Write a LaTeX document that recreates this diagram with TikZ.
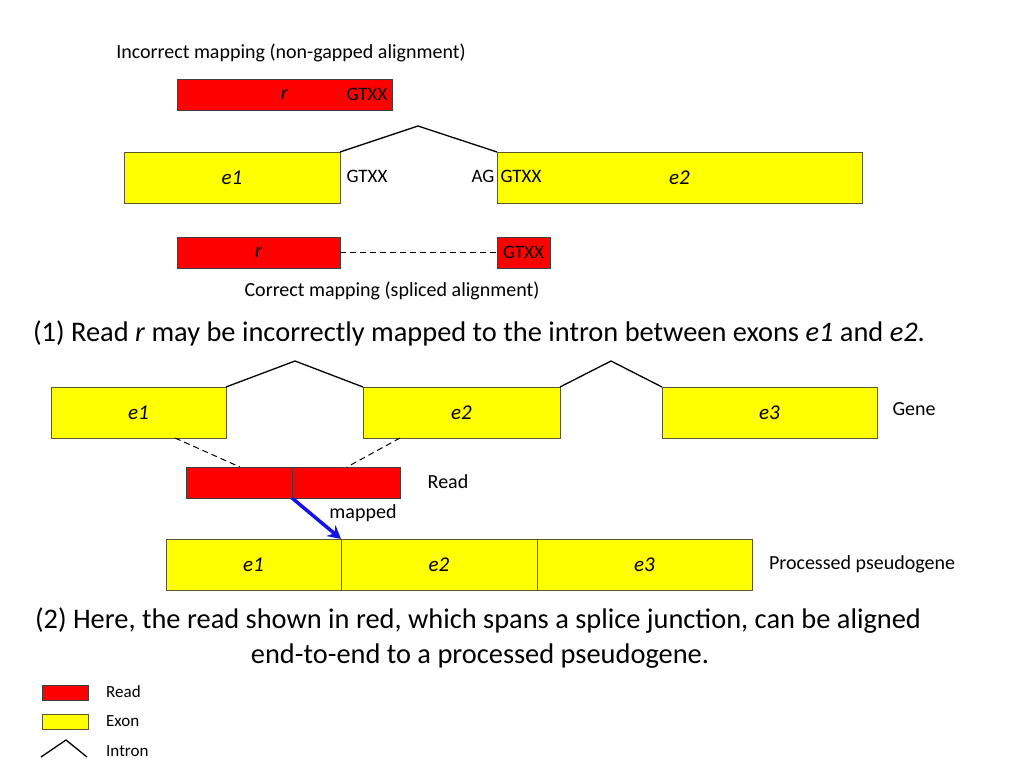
\documentclass[tikz,border=0pt]{standalone}
\usepackage{fontspec}
\setmainfont{Carlito}
\usetikzlibrary{arrows.meta}
\definecolor{exonyellow}{RGB}{255,255,0}
\definecolor{readred}{RGB}{255,0,0}
\definecolor{exonborder}{RGB}{90,90,40}
\definecolor{arrowblue}{RGB}{20,20,230}
\tikzset{
  exonbox/.style={draw=exonborder, fill=exonyellow, line width=1pt, inner sep=0pt, outer sep=0pt, anchor=north west, font=\fontsize{21}{25}\selectfont\itshape},
  readbox/.style={draw=black!75, fill=readred, line width=1pt, inner sep=0pt, outer sep=0pt, anchor=north west, font=\fontsize{21}{25}\selectfont\itshape},
  intron/.style={draw=black, line width=1.3pt},
  dashline/.style={draw=black, line width=1pt, dash pattern=on 6pt off 4pt},
  lbl/.style={inner sep=0pt, font=\fontsize{20}{24}\selectfont},
  sm/.style={inner sep=0pt, font=\fontsize{19}{22}\selectfont},
  leg/.style={inner sep=0pt, anchor=west, font=\fontsize{17}{20}\selectfont},
  big/.style={inner sep=0pt, font=\fontsize{28.4}{34}\selectfont},
}
\begin{document}
\begin{tikzpicture}[x=1pt,y=-1pt]
\useasboundingbox (0,0) rectangle (1024,768);
% ---- part 1 ----
\node[lbl] (t1) at (291,53) {Incorrect mapping (non-gapped alignment)};
\node[readbox, minimum width=215, minimum height=31] (r1) at (177,79) {r};
\node[sm] (g1) at (367,94) {GTXX};
\node[exonbox, minimum width=216, minimum height=51] (e1a) at (124,152) {e1};
\node[exonbox, minimum width=365, minimum height=51] (e2a) at (497,152) {e2};
\coordinate (i1) at (418,126);
\draw[intron] (e1a.north east) -- (i1) -- (e2a.north west);
\node[sm] (g2) at (367,176) {GTXX};
\node[sm] (ag) at (483,176) {AG};
\node[sm] (g3) at (521,176) {GTXX};
\node[readbox, minimum width=163, minimum height=31] (r2) at (177,237) {r};
\node[readbox, minimum width=53, minimum height=31, font=\fontsize{19}{22}\selectfont] (r3) at (497,237) {GTXX};
\draw[dashline] (r2.east) -- (r3.west);
\node[lbl] (t2) at (392,291) {Correct mapping (spliced alignment)};
\node[big] (s1) at (479,333) {(1) Read \textit{r} may be incorrectly mapped to the intron between exons \textit{e1} and \textit{e2}.};
% ---- part 2 ----
\node[exonbox, minimum width=175, minimum height=51] (ge1) at (51,387) {e1};
\node[exonbox, minimum width=197, minimum height=51] (ge2) at (363,387) {e2};
\node[exonbox, minimum width=215, minimum height=51] (ge3) at (662,387) {e3};
\coordinate (i2) at (295,361);
\coordinate (i3) at (611,361);
\draw[intron] (ge1.north east) -- (i2) -- (ge2.north west);
\draw[intron] (ge2.north east) -- (i3) -- (ge3.north west);
\node[lbl] (gene) at (914,409) {Gene};
\node[readbox, minimum width=106, minimum height=31] (rd1) at (186,467) {};
\node[readbox, minimum width=108, minimum height=31] (rd2) at (292,467) {};
\coordinate (d1a) at (175,438);
\coordinate (d1b) at (240,467);
\coordinate (d2a) at (400,438);
\coordinate (d2b) at (347,467);
\draw[dashline] (d1a) -- (d1b);
\draw[dashline] (d2a) -- (d2b);
\node[lbl] (read) at (448,482) {Read};
\node[exonbox, minimum width=175, minimum height=51] (pe1) at (166,539) {e1};
\node[exonbox, minimum width=196, minimum height=51] (pe2) at (341,539) {e2};
\node[exonbox, minimum width=215, minimum height=51] (pe3) at (537,539) {e3};
\draw[draw=arrowblue, line width=3.5pt, -{Stealth[length=13pt,width=14pt]}] (rd1.south east) -- (pe1.north east);
\node[lbl] (mapped) at (363,513) {mapped};
\node[lbl] (pp) at (862,564) {Processed pseudogene};
\node[big] (s2a) at (478,621) {(2) Here, the read shown in red, which spans a splice junction, can be aligned};
\node[big] (s2b) at (480,656) {end-to-end to a processed pseudogene.};
% ---- legend ----
\node[readbox, minimum width=46, minimum height=15] (lr) at (42,685) {};
\node[leg] (lrt) at (106,692) {Read};
\node[exonbox, minimum width=46, minimum height=15] (le) at (42,714) {};
\node[leg] (let) at (106,721) {Exon};
\coordinate (la) at (41,757);
\coordinate (lb) at (66,740);
\coordinate (lc) at (87,757);
\draw[intron] (la) -- (lb) -- (lc);
\node[leg] (lit) at (106,751) {Intron};
\end{tikzpicture}
\end{document}
